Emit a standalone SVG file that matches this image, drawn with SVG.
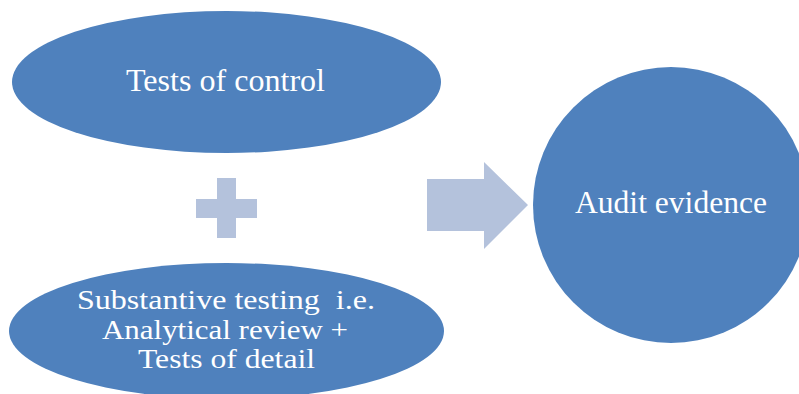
<svg xmlns="http://www.w3.org/2000/svg" width="799" height="394" viewBox="0 0 799 394">
<style>
.node{fill:#4F81BD}
.sym{fill:#B4C2DC}
.lbl{font-family:"Liberation Serif","Times New Roman",serif;font-size:31px;fill:#FFFFFF;text-anchor:middle}
.sm{font-size:28px}
</style>
<rect width="799" height="394" fill="#FFFFFF"/>
<g id="tests-of-control">
<ellipse class="node" cx="226.5" cy="82" rx="214.5" ry="71"/>
<text class="lbl" x="225.5" y="91" textLength="199" lengthAdjust="spacingAndGlyphs">Tests of control</text>
</g>
<g id="substantive-testing">
<ellipse class="node" cx="226.5" cy="331" rx="217.5" ry="68"/>
<text class="lbl sm" x="226" y="309" textLength="298" lengthAdjust="spacingAndGlyphs" xml:space="preserve">Substantive testing  i.e.</text>
<text class="lbl sm" x="225" y="339" textLength="246" lengthAdjust="spacingAndGlyphs">Analytical review +</text>
<text class="lbl sm" x="226.5" y="368" textLength="177" lengthAdjust="spacingAndGlyphs">Tests of detail</text>
</g>
<g id="audit-evidence">
<circle class="node" cx="671" cy="205" r="138"/>
<text class="lbl" x="671" y="213" textLength="192" lengthAdjust="spacingAndGlyphs">Audit evidence</text>
</g>
<g id="plus">
<path class="sym" d="M217,178 H236 V199 H257 V218 H236 V238 H217 V218 H196 V199 H217 Z"/>
</g>
<g id="connectors">
<path class="sym" d="M427,179 H484 V162 L528,205 L484,249 V231 H427 Z"/>
</g>
</svg>
